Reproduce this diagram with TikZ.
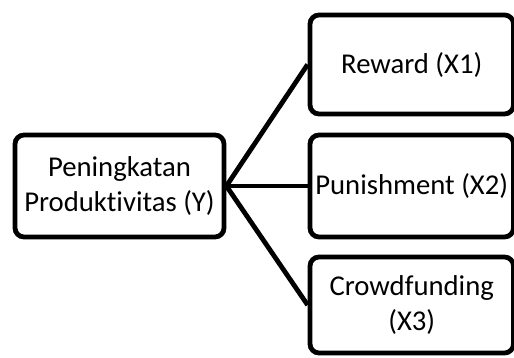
\documentclass[tikz,border=0pt]{standalone}
\usepackage{fontspec}
\setmainfont{Carlito}[Ligatures=NoCommon]
\begin{document}
\begin{tikzpicture}[x=1pt,y=-1pt,
  box/.style={draw=black, line width=4.8pt, rounded corners=9pt, align=center,
    inner sep=0pt, font=\fontsize{28.7}{35}\selectfont},
  conn/.style={draw=black, line width=4.8pt}]
\useasboundingbox (0,0) rectangle (514,358);
\node[box, minimum width=209pt, minimum height=102pt] (y) at (119.5,186) {Peningkatan\\Produktivitas (Y)};
\node[box, minimum width=203.5pt, minimum height=99pt] (x1) at (411.75,64.5) {Reward (X1)};
\node[box, minimum width=203.5pt, minimum height=102pt] (x2) at (411.75,186) {Punishment (X2)};
\node[box, minimum width=203.5pt, minimum height=96pt] (x3) at (411.75,305) {Crowdfunding\\(X3)};
\draw[conn] (y.east) -- (x1.west);
\draw[conn] (y.east) -- (x2.west);
\draw[conn] (y.east) -- (x3.west);
\end{tikzpicture}
\end{document}
